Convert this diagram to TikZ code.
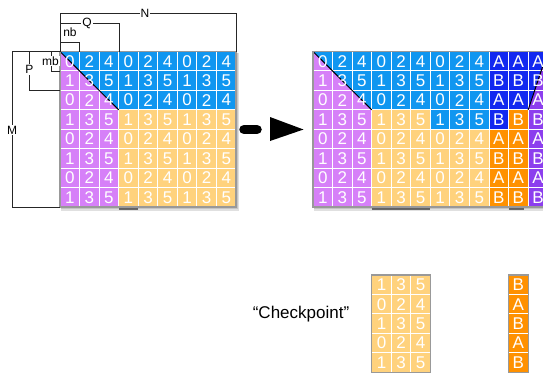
\documentclass[tikz,border=0pt]{standalone}
\usepackage{fontspec}
\setmainfont{Liberation Sans}
\definecolor{cblue}{RGB}{16,150,240}
\definecolor{cpurple}{RGB}{214,128,248}
\definecolor{cyellow}{RGB}{255,210,125}
\definecolor{cdblue}{RGB}{18,40,240}
\definecolor{corange}{RGB}{255,145,0}
\definecolor{cviolet}{RGB}{140,62,238}
\begin{document}
\begin{tikzpicture}[x=1pt,y=-1pt,
  num/.style={text=white,font=\fontsize{17}{17}\selectfont,inner sep=0pt,anchor=center},
  lbl/.style={font=\fontsize{12}{12}\selectfont,inner sep=1pt,fill=white},
  brk/.style={draw=black!85,line width=0.8pt},
  gridl/.style={draw=white,line width=0.9pt},
  border/.style={draw=black!40,line width=1.2pt},
  shade/.style={fill=black,opacity=0.12},
  darkbar/.style={fill=black!70,opacity=0.8},
  diag/.style={draw=black,line width=1pt}]
\useasboundingbox (0,0) rectangle (543,373);

% ---------- left grid ----------
\begin{scope}[shift={(60,51.5)},x=19.56pt,y=-19.44pt]
  \fill[shade] (0.05,0.08) rectangle (9.15,8.2);
  \fill[shade] (0.05,0.08) rectangle (9.08,8.12);
  \fill[cpurple] (0,0) rectangle (3,8);
  \fill[cblue] (3,0) rectangle (9,3);
  \fill[cyellow] (3,3) rectangle (9,8);
  \fill[cblue] (0,0) -- (3,0) -- (3,3) -- cycle;
  \foreach \c in {1,...,8} \draw[gridl] (\c,0) -- (\c,8);
  \foreach \r in {1,...,7} \draw[gridl] (0,\r) -- (9,\r);
  \draw[diag] (0,0) -- (3,3);
  \foreach \r in {0,...,7}{
    \foreach \c in {0,...,8}{
      \pgfmathtruncatemacro\d{2*mod(\c,3)+mod(\r,2)}
      \node[num] (L-\r-\c) at (\c+0.5,\r+0.5) {\d};
    }
  }
  \draw[border] (0,0) rectangle (9,8);
  \fill[darkbar] (3,8.05) rectangle (4,8.15);
\end{scope}

% ---------- brackets ----------
\draw[brk] (60,51.5) -- (60,13) -- (236,13) -- (236,51.5);
\node[lbl] (N) at (145,13) {N};
\draw[brk] (60,23) -- (119,23) -- (119,51.5);
\node[lbl] (Q) at (87,23) {Q};
\draw[brk] (60,42) -- (79.6,42) -- (79.6,51.5);
\node[lbl,fill=none] (nb) at (70,32) {nb};
\draw[brk] (51,51.5) -- (51,71) -- (60,71);
\node[lbl] (mb) at (50.5,61) {mb};
\draw[brk] (29.5,51.5) -- (29.5,90.4) -- (60,90.4);
\node[lbl] (P) at (29.5,69.5) {P};
\draw[brk] (60,51.5) -- (12,51.5) -- (12,207) -- (60,207);
\node[lbl] (M) at (12,130) {M};

% ---------- arrow ----------
\coordinate (a1) at (244,129.5);
\coordinate (a2) at (257,129.5);
\draw[line width=9.5pt,line cap=round] (a1) -- (a2);
\fill (270,117) -- (303.5,129.5) -- (270,141) -- cycle;

% ---------- right grid ----------
\begin{scope}[shift={(313,51.5)},x=19.56pt,y=-19.44pt]
  \fill[shade] (0.05,0.08) rectangle (12.15,8.2);
  \fill[shade] (0.05,0.08) rectangle (12.08,8.12);
  \fill[cpurple] (0,0) rectangle (3,8);
  \fill[cblue] (0,0) -- (9,0) -- (9,4) -- (6,4) -- (6,3) -- (3,3) -- cycle;
  \fill[cblue] (0,0) -- (3,0) -- (3,3) -- cycle;
  \fill[cyellow] (3,3) rectangle (6,4);
  \fill[cyellow] (3,4) rectangle (9,8);
  \fill[cdblue] (9,0) rectangle (11,3);
  \fill[cdblue] (9,3) rectangle (10,4);
  \fill[cdblue] (11,0) -- (12,0) -- (11,3) -- cycle;
  \fill[corange] (10,3) rectangle (11,4);
  \fill[corange] (9,4) rectangle (11,8);
  \fill[cviolet] (12,0) -- (12,8) -- (11,8) -- (11,3) -- cycle;
  \foreach \c in {1,...,11} \draw[gridl] (\c,0) -- (\c,8);
  \foreach \r in {1,...,7} \draw[gridl] (0,\r) -- (12,\r);
  \draw[diag] (0,0) -- (3,3);
  \draw[diag] (11,3) -- (12,0);
  \foreach \r in {0,...,7}{
    \foreach \c in {0,...,8}{
      \pgfmathtruncatemacro\d{2*mod(\c,3)+mod(\r,2)}
      \node[num] (R-\r-\c) at (\c+0.5,\r+0.5) {\d};
    }
  }
  \foreach \r/\l in {0/A,1/B,2/A,3/B,4/A,5/B,6/A,7/B}{
    \foreach \c in {9,10,11}{
      \node[num] (R-\r-\c) at (\c+0.5,\r+0.5) {\l};
    }
  }
  \draw[border] (0,0) rectangle (12,8);
  \fill[darkbar] (3,8.05) rectangle (6,8.15);
  \fill[darkbar] (10,8.05) rectangle (10.8,8.15);
\end{scope}

% ---------- checkpoint ----------
\node[font=\fontsize{17}{17}\selectfont,inner sep=0pt] (ck) at (301,314) {“Checkpoint”};
\begin{scope}[shift={(371.7,275)},x=19.56pt,y=-19.44pt]
  \fill[cyellow] (0,0) rectangle (3,5);
  \foreach \c in {1,2} \draw[gridl] (\c,0) -- (\c,5);
  \foreach \r in {1,...,4} \draw[gridl] (0,\r) -- (3,\r);
  \foreach \r in {0,...,4}{
    \foreach \c in {0,1,2}{
      \pgfmathtruncatemacro\d{2*\c+1-mod(\r,2)}
      \node[num] (C-\r-\c) at (\c+0.5,\r+0.5) {\d};
    }
  }
  \draw[border] (0,0) rectangle (3,5);
\end{scope}
\begin{scope}[shift={(508.6,275)},x=19.56pt,y=-19.44pt]
  \fill[corange] (0,0) rectangle (1,5);
  \foreach \r in {1,...,4} \draw[gridl] (0,\r) -- (1,\r);
  \foreach \r/\l in {0/B,1/A,2/B,3/A,4/B}{
    \node[num] (D-\r) at (0.5,\r+0.5) {\l};
  }
  \draw[border] (0,0) rectangle (1,5);
\end{scope}
\end{tikzpicture}
\end{document}
